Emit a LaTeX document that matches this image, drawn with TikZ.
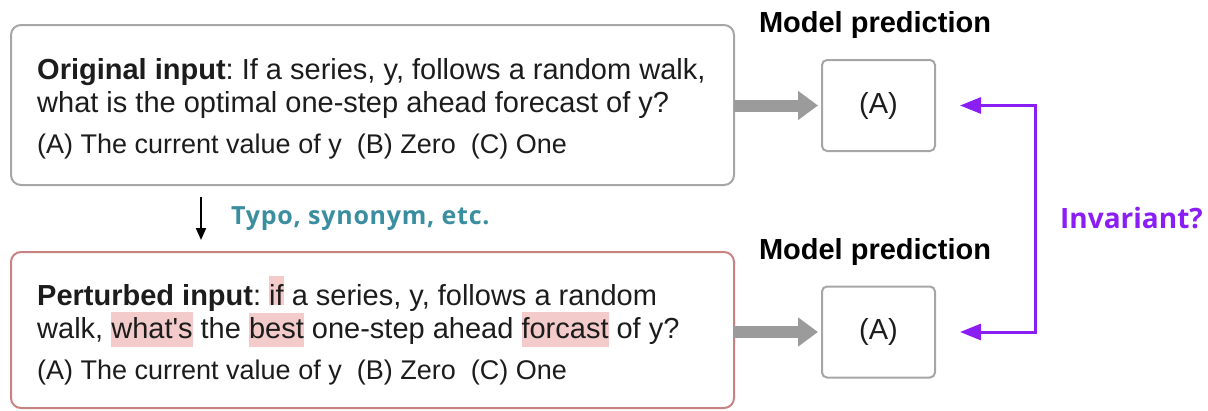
\documentclass[tikz,border=0pt]{standalone}
\usepackage{fontspec}
\setmainfont{Liberation Sans}[Ligatures=TeXOff]
\newfontfamily\labelfont{Open Sans}
\usetikzlibrary{arrows.meta}
\frenchspacing

\definecolor{ink}{HTML}{1C1C1C}
\definecolor{boxgray}{HTML}{A6A6A6}
\definecolor{arrowgray}{HTML}{9B9B9B}
\definecolor{pertred}{HTML}{C98282}
\definecolor{hlpink}{HTML}{F3CBCB}
\definecolor{typoteal}{HTML}{3A8EA0}
\definecolor{invpurple}{HTML}{8A1EF5}

\newcommand\bodysize{\fontsize{29pt}{33pt}\selectfont}
\newcommand\optsize{\fontsize{27pt}{31pt}\selectfont}

% highlighted word: #1 depth below baseline, #2 height above baseline, #3 word
\newsavebox\hlsave
\newcommand\hlmark[3]{%
  \sbox\hlsave{#3}%
  \rlap{\color{hlpink}\rule[-#1]{\wd\hlsave}{\dimexpr #1+#2\relax}}\usebox\hlsave}

\begin{document}
\begin{tikzpicture}[x=1pt,y=-1pt,
  inputbox/.style={draw=#1, line width=2pt, rounded corners=10pt,
    outer sep=0pt, inner sep=0pt, minimum width=723pt, anchor=north west},
  predbox/.style={draw=boxgray, line width=2pt, rounded corners=5pt,
    outer sep=0pt, inner sep=0pt, minimum width=113pt, minimum height=91pt,
    font=\bodysize, text=ink},
  textline/.style={anchor=base west, inner sep=0pt, text=ink, font=\bodysize},
  optline/.style={anchor=base west, inner sep=0pt, text=ink, font=\optsize},
  predtitle/.style={anchor=base, inner sep=0pt, text=black,
    font=\fontsize{29pt}{33pt}\selectfont\bfseries},
  feed/.style={draw=arrowgray, line width=12pt,
    -{Triangle[length=20pt,width=28pt]}, shorten >=4pt},
  invlink/.style={draw=invpurple, line width=3pt, line join=miter,
    {Triangle[length=21pt,width=16pt]}-{Triangle[length=21pt,width=16pt]},
    shorten <=25pt, shorten >=25pt},
  perturb/.style={draw=black, line width=2pt,
    -{Triangle[length=12pt,width=10pt]}, shorten <=12pt, shorten >=12pt}]

\useasboundingbox (0,0) rectangle (1208,410);

% input boxes
\node[inputbox=boxgray, minimum height=160pt] (orig) at (11,25) {};
\node[inputbox=pertred, minimum height=156pt] (pert) at (11,252) {};

% original question
\node[textline] (o1) at (37,79) {\textbf{Original input}: If a series, y, follows a random walk,};
\node[textline] (o2) at (37,112) {what is the optimal one-step ahead forecast of y?};
\node[optline] (o3) at (37,153) {(A) The current value of y\ \ (B) Zero\ \ (C) One};

% perturbed question with edited words highlighted
\node[textline] (p1) at (37,305) {\textbf{Perturbed input}: \hlmark{0pt}{29pt}{if} a series, y, follows a random};
\node[textline] (p2) at (37,338) {walk, \hlmark{9pt}{26pt}{what's} the \hlmark{9pt}{25pt}{best} one-step ahead \hlmark{9pt}{26pt}{forcast} of y?};
\node[optline] (p3) at (37,379) {(A) The current value of y\ \ (B) Zero\ \ (C) One};

% model predictions
\node[predtitle] (ot) at (875,32) {Model prediction};
\node[predtitle] (pt) at (875,259) {Model prediction};
\node[predbox] (om) at (878.5,105.5) {(A)};
\node[predbox] (pm) at (878.5,332) {(A)};

% input -> prediction
\draw[feed] (orig.east |- om.west) -- (om.west);
\draw[feed] (pert.east |- pm.west) -- (pm.west);

% perturbation step
\coordinate (dx) at (201,0);
\draw[perturb] (orig.south -| dx) -- (pert.north -| dx);
\node[anchor=base west, inner sep=0pt, text=typoteal,
  font=\labelfont\fontsize{25pt}{29pt}\selectfont\bfseries\addfontfeature{LetterSpace=3}]
  (typo) at (231,224) {Typo, synonym, etc.};

% invariance check
\coordinate (vx) at (1035,0);
\draw[invlink] (om.east) -- (om.east -| vx) -- (pm.east -| vx) -- (pm.east);
\node[anchor=base west, inner sep=0pt, text=invpurple,
  font=\labelfont\fontsize{28pt}{32pt}\selectfont\bfseries]
  (inv) at (1060,228) {Invariant?};
\end{tikzpicture}
\end{document}
